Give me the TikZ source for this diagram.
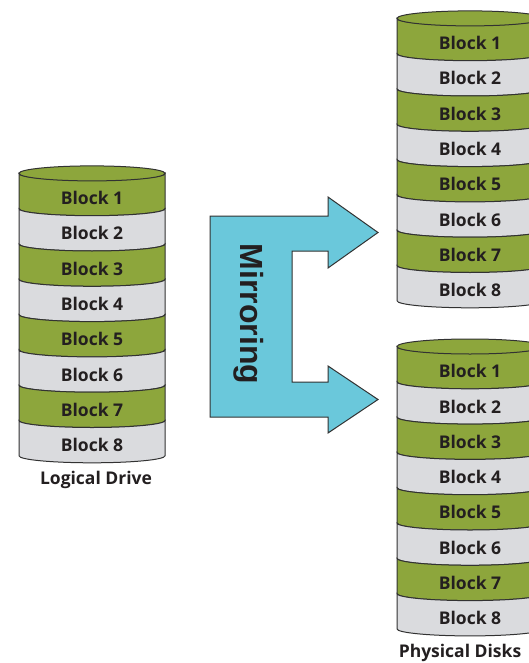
\documentclass[tikz,border=0pt]{standalone}
\usepackage{fontspec}
\newfontfamily\blkfont{Open Sans Bold}
\newfontfamily\arfont{Liberation Sans Bold}
\definecolor{diskgreen}{RGB}{141,166,60}
\definecolor{diskgray}{RGB}{218,219,222}
\definecolor{mirrorcyan}{RGB}{106,200,219}
\definecolor{edgecol}{RGB}{50,50,50}
\definecolor{txt}{RGB}{35,31,32}
\tikzset{
  blocklbl/.style={text=txt, font=\blkfont\fontsize{17.5}{20}\selectfont, inner sep=0pt},
  caption/.style={text=txt, font=\blkfont\fontsize{17.5}{20}\selectfont, inner sep=0pt},
  diskline/.style={draw=edgecol, line width=1pt},
}
\newcommand\diskstack[3]{%
  \foreach \k/\c [evaluate=\k as \ya using -(#2+35.3*\k), evaluate=\k as \yb using -(#2+35.3*(\k+1)), evaluate=\k as \n using int(\k+1)] in {0/diskgreen,1/diskgray,2/diskgreen,3/diskgray,4/diskgreen,5/diskgray,6/diskgreen,7/diskgray}{
    \filldraw[fill=\c, diskline] (#1,\ya) arc[start angle=180,end angle=360,x radius=73,y radius=7] -- (#1+146,\yb) arc[start angle=0,end angle=-180,x radius=73,y radius=7] -- cycle;
    \node[blocklbl] (#3\n) at (#1+73, {(\ya+\yb)/2-7}) {Block \n};
  }
  \filldraw[fill=diskgreen, diskline] (#1+73,-#2) ellipse[x radius=73, y radius=7.5];
}
\begin{document}
\begin{tikzpicture}[x=1pt,y=1pt]
\useasboundingbox (0,0) rectangle (529,-663);
\clip (0,0) rectangle (529,-663);
\fill[white] (0,0) rectangle (529,-663);
% logical drive
\diskstack{19}{173.4}{l}
\node[caption] (logical) at (96,-480) {Logical Drive};
% physical disks
\diskstack{397}{18.4}{a}
\diskstack{397}{346.5}{b}
\node[caption] (physical) at (460,-653) {Physical Disks};
% mirroring arrow
\filldraw[fill=mirrorcyan, draw=edgecol, line width=1pt]
  (210,-216) -- (328,-216) -- (328,-197) -- (378,-232.5) -- (328,-268) -- (328,-251)
  -- (292,-251) -- (292,-382) -- (328,-382) -- (328,-366) -- (378,-399.5) -- (328,-433)
  -- (328,-417) -- (210,-417) -- cycle;
\node[rotate=-90, text=txt, font=\arfont\fontsize{32}{34}\selectfont, inner sep=0pt] (mirror) at (249,-314) {Mirroring};
\end{tikzpicture}
\end{document}
